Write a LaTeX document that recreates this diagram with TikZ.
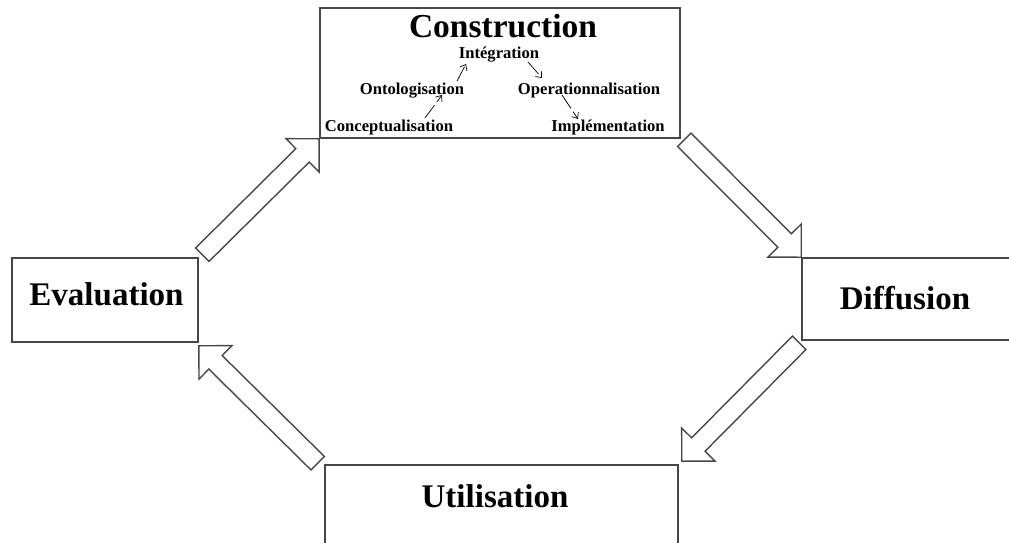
\documentclass[tikz,border=0pt]{standalone}
\usepackage{fontspec}
\setmainfont{Liberation Serif}
\usetikzlibrary{calc,arrows.meta}
\definecolor{edge}{HTML}{474747}
\tikzset{
  box/.style={draw=edge, line width=1.6pt, rectangle, inner sep=0pt},
  title/.style={font=\bfseries\fontsize{33}{33}\selectfont, anchor=base, inner sep=0pt},
  stage/.style={font=\bfseries\fontsize{16.6}{17}\selectfont, anchor=base, inner sep=0pt},
  flow/.style={draw=edge, line width=1.4pt, fill=white, line join=miter},
  link/.style={draw=black, line width=0.7pt, dash pattern=on 16pt off 4pt,
    -{Straight Barb[length=5pt,width=8pt,line width=0.7pt]}},
}
% hollow block arrow from a tail point #1 to a tip point #2
\newcommand\blockarrow[2]{%
  \coordinate (ba-t) at #1;
  \coordinate (ba-h) at #2;
  \coordinate (ba-b) at ($(ba-h)!23.5pt!(ba-t)$);
  \draw[flow] ($(ba-t)!9.5pt!90:(ba-h)$) -- ($(ba-b)!9.5pt!90:(ba-h)$)
    -- ($(ba-b)!23.5pt!90:(ba-h)$) -- (ba-h) -- ($(ba-b)!23.5pt!-90:(ba-h)$)
    -- ($(ba-b)!9.5pt!-90:(ba-h)$) -- ($(ba-t)!9.5pt!-90:(ba-h)$) -- cycle;
}
\begin{document}
\begin{tikzpicture}[x=1pt,y=-1pt]
  \clip (0,0) rectangle (1009,542);
  \fill[white] (0,0) rectangle (1009,542);

  % stage boxes
  \node[box, minimum width=360pt, minimum height=130pt] (con) at (500,73) {};
  \node[box, minimum width=186pt, minimum height=84pt] (eva) at (105,300) {};
  \node[box, minimum width=212pt, minimum height=82pt] (dif) at (908,299) {};
  \node[box, minimum width=353pt, minimum height=95pt] (uti) at (501.5,512.5) {};

  % cycle arrows
  \blockarrow{($(eva.north east)+(3.5,-2.5)$)}{(con.south west)}
  \blockarrow{($(con.south east)+(3.5,1)$)}{(dif.north west)}
  \blockarrow{($(dif.south west)+(-2,2)$)}{($(uti.north east)+(3,-3)$)}
  \blockarrow{($(uti.north west)+(-6.5,-1)$)}{($(eva.south east)+(0,3)$)}

  % stage titles
  \node[title, font=\bfseries\fontsize{33.5}{34}\selectfont] (tcon) at (503,37) {Construction};
  \node[title] (teva) at (106.5,305) {Evaluation};
  \node[title] (tdif) at (905,309) {Diffusion};
  \node[title] (tuti) at (495,507) {Utilisation};

  % construction steps
  \node[stage] (integ) at (499,58) {Intégration};
  \node[stage] (onto) at (412,94) {Ontologisation};
  \node[stage] (oper) at (589,94) {Operationnalisation};
  \node[stage] (conc) at (389,131) {Conceptualisation};
  \node[stage] (impl) at (608,131) {Implémentation};

  % step links
  \coordinate (l1s) at (425,118); \coordinate (l1e) at (442,95);
  \coordinate (l2s) at (457,81);  \coordinate (l2e) at (466,64);
  \coordinate (l3s) at (528,62);  \coordinate (l3e) at (542,78);
  \coordinate (l4s) at (562,95);  \coordinate (l4e) at (578,119);
  \draw[link] (l1s) -- (l1e);
  \draw[link] (l2s) -- (l2e);
  \draw[link] (l3s) -- (l3e);
  \draw[link] (l4s) -- (l4e);
\end{tikzpicture}
\end{document}
